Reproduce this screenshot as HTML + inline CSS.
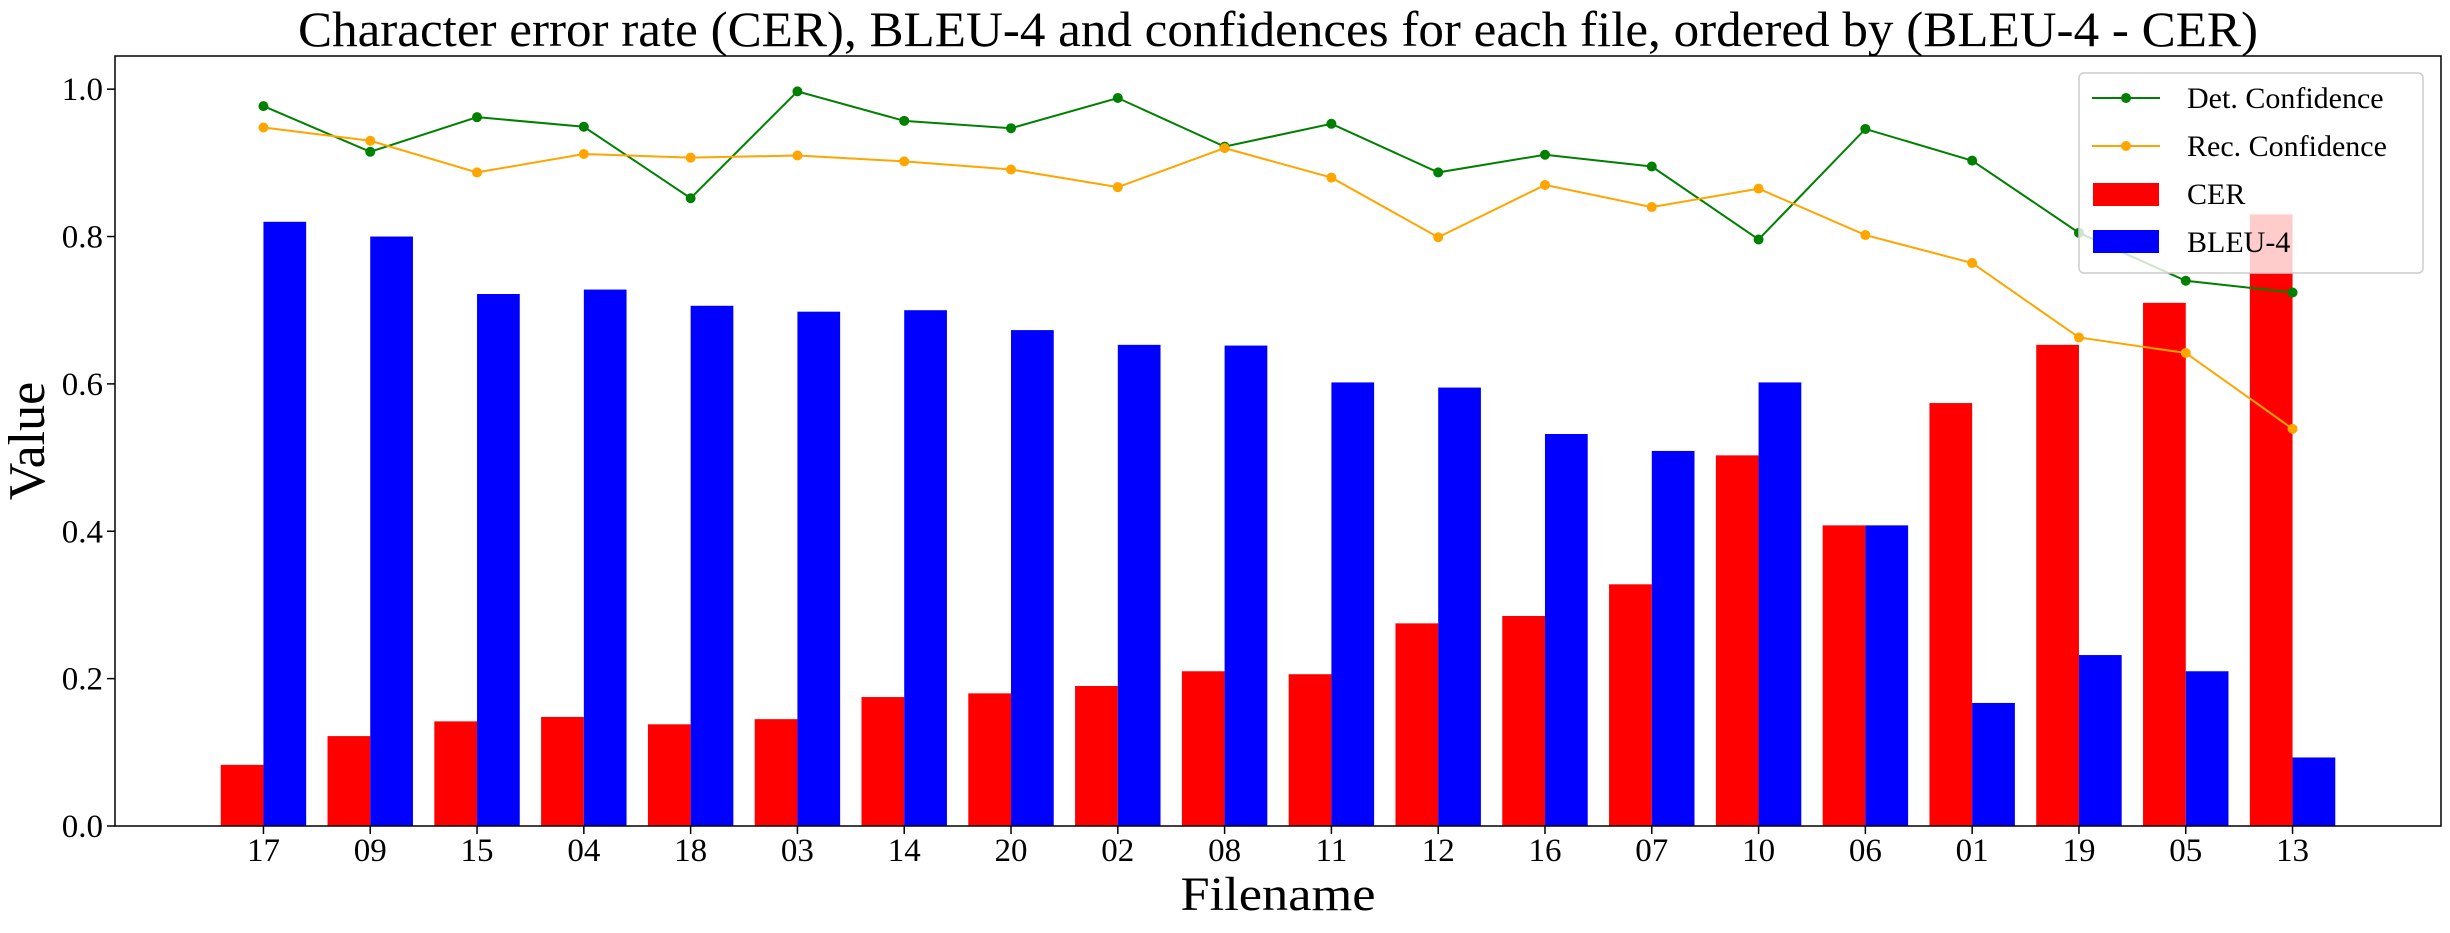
<!DOCTYPE html>
<html><head><meta charset="utf-8"><style>
body{margin:0;background:#fff}
svg text{font-family:"Liberation Serif",serif;fill:#000}
</style></head><body>
<svg id="chart" width="2450" height="928" xmlns="http://www.w3.org/2000/svg">
<text x="1278" y="46" font-size="50" text-anchor="middle" textLength="1960" lengthAdjust="spacingAndGlyphs">Character error rate (CER), BLEU-4 and confidences for each file, ordered by (BLEU-4 - CER)</text>
<g id="plot"></g>
<rect x="115" y="56" width="2326" height="770" fill="none" stroke="#000" stroke-width="1.5"/>
<g id="yticks"></g>
<g id="xticks"></g>
<text x="1278" y="910" font-size="48" text-anchor="middle" textLength="195" lengthAdjust="spacingAndGlyphs">Filename</text>
<text transform="translate(44,441) rotate(-90)" font-size="52" text-anchor="middle">Value</text>
<g>
<rect x="2079" y="73" width="344" height="200" rx="5" fill="#fff" fill-opacity="0.8" stroke="#ccc" stroke-width="1.5"/>
<g><line x1="2092" y1="98" x2="2160" y2="98" stroke="green" stroke-width="2"/><circle cx="2126" cy="98" r="5" fill="green"/><text x="2187" y="108" font-size="30">Det. Confidence</text></g>
<g><line x1="2092" y1="146" x2="2160" y2="146" stroke="orange" stroke-width="2"/><circle cx="2126" cy="146" r="5" fill="orange"/><text x="2187" y="156" font-size="30">Rec. Confidence</text></g>
<g><rect x="2093" y="183" width="66" height="23" fill="red"/><text x="2187" y="204" font-size="30">CER</text></g>
<g><rect x="2093" y="230" width="66" height="23" fill="blue"/><text x="2187" y="252" font-size="30">BLEU-4</text></g>
</g>
</svg>
<script>
const categories=["17","09","15","04","18","03","14","20","02","08","11","12","16","07","10","06","01","19","05","13"];
const cerValues=[0.083,0.122,0.142,0.148,0.138,0.145,0.175,0.18,0.19,0.21,0.206,0.275,0.285,0.328,0.503,0.408,0.574,0.653,0.71,0.83];
const bleuValues=[0.82,0.80,0.722,0.728,0.706,0.698,0.70,0.673,0.653,0.652,0.602,0.595,0.532,0.509,0.602,0.408,0.167,0.232,0.21,0.093];
const detValues=[0.977,0.915,0.962,0.949,0.852,0.997,0.957,0.947,0.988,0.922,0.953,0.887,0.911,0.895,0.796,0.946,0.903,0.805,0.740,0.724];
const recValues=[0.948,0.93,0.887,0.912,0.907,0.91,0.902,0.891,0.867,0.92,0.88,0.799,0.87,0.84,0.865,0.802,0.764,0.663,0.642,0.539];
const yTickLabels=["0.0","0.2","0.4","0.6","0.8","1.0"];
const NS="http://www.w3.org/2000/svg";
const L=115,R=2441,T=56,B=826,yMax=1.045,barW=0.4;
const n=categories.length;
const xMin=-barW-0.05*(n-1+2*barW), xMax=n-1+barW+0.05*(n-1+2*barW);
const xs=v=>L+(v-xMin)/(xMax-xMin)*(R-L);
const ys=v=>B-v/yMax*(B-T);
function mk(tag,attrs,parent){const e=document.createElementNS(NS,tag);for(const k in attrs)e.setAttribute(k,attrs[k]);parent.appendChild(e);return e;}
const plot=document.getElementById('plot');
categories.forEach((c,i)=>{
  const r=mk('rect',{x:xs(i-barW),y:ys(cerValues[i]),width:xs(i)-xs(i-barW),height:B-ys(cerValues[i]),fill:'red'},plot);
  
  
  const b=mk('rect',{x:xs(i),y:ys(bleuValues[i]),width:xs(i+barW)-xs(i),height:B-ys(bleuValues[i]),fill:'blue'},plot);
  
  
});
function line(vals,color,name){
  const p=mk('polyline',{points:vals.map((v,i)=>xs(i)+','+ys(v)).join(' '),fill:'none',stroke:color,'stroke-width':2},plot);
  
  
  vals.forEach((v,i)=>{
    const m=mk('circle',{cx:xs(i),cy:ys(v),r:5,fill:color},plot);
    
    
  });
}
line(detValues,'green','det-confidence');
line(recValues,'orange','rec-confidence');
const yg=document.getElementById('yticks');
yTickLabels.forEach(t=>{
  const v=parseFloat(t),y=ys(v);
  mk('line',{x1:L-8,x2:L,y1:y,y2:y,stroke:'#000','stroke-width':1.5},yg);
  const tx=mk('text',{x:L-12,y:y+11,'font-size':33,'text-anchor':'end'},yg);
  tx.textContent=t;
  
  
});
const xg=document.getElementById('xticks');
categories.forEach((c,i)=>{
  const x=xs(i);
  mk('line',{x1:x,x2:x,y1:B,y2:B+8,stroke:'#000','stroke-width':1.5},xg);
  const tx=mk('text',{x:x,y:861,'font-size':33,'text-anchor':'middle'},xg);
  tx.textContent=c;
  
  
});
</script>
</body></html>
